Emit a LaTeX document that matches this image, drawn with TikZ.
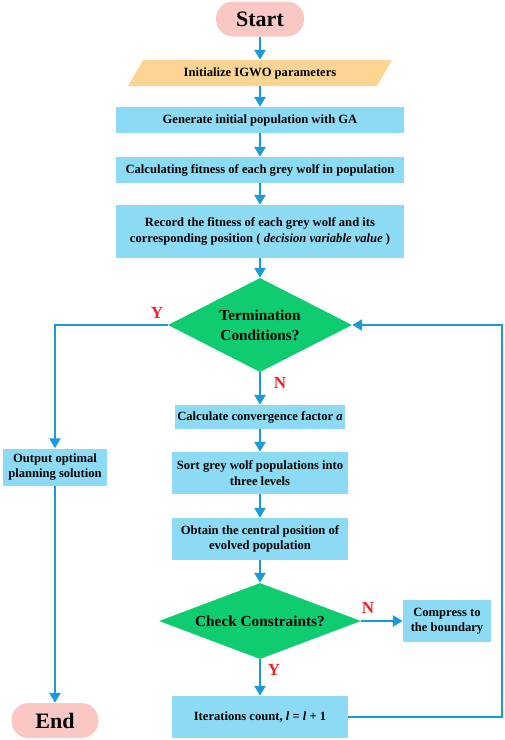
\documentclass[tikz,border=0pt]{standalone}
\usepackage{fontspec}
\setmainfont{Liberation Serif}
\usetikzlibrary{shapes.geometric,arrows.meta}
\definecolor{boxblue}{HTML}{8DDAF4}
\definecolor{arrblue}{HTML}{1B9ADB}
\definecolor{dgreen}{HTML}{10CC70}
\definecolor{pinkc}{HTML}{F9C8C4}
\definecolor{orangec}{HTML}{FCD594}
\definecolor{redc}{HTML}{E8262A}
\tikzset{
  pbox/.style={rectangle, fill=boxblue, inner sep=0pt, align=center,
    font=\bfseries\fontsize{12.6}{15.5}\selectfont},
  pill/.style={rectangle, rounded corners=17pt, fill=pinkc, inner sep=0pt,
    font=\bfseries\fontsize{22}{26}\selectfont},
  dec/.style={diamond, fill=dgreen, inner sep=0pt, align=center,
    font=\bfseries\fontsize{15.3}{20}\selectfont},
  conn/.style={draw=arrblue, line width=2.8pt, -{Triangle[width=11pt,length=10pt]}},
  lbl/.style={text=redc, font=\bfseries\fontsize{17}{19}\selectfont},
}
\begin{document}
\begin{tikzpicture}[x=1pt,y=-1pt]
\useasboundingbox (0,0) rectangle (505,740);
% nodes
\node[pill, minimum width=88pt, minimum height=35pt] (start) at (260,19) {Start};
\fill[orangec] (128,86) -- (143,60) -- (392,60) -- (377,86) -- cycle;
\node[rectangle, inner sep=0pt, minimum width=240pt, minimum height=26pt,
  font=\bfseries\fontsize{12.6}{15.5}\selectfont] (init) at (260,73) {Initialize IGWO parameters};
\node[pbox, minimum width=288pt, minimum height=26pt] (gen) at (260,120) {Generate initial population with GA};
\node[pbox, minimum width=288pt, minimum height=26pt] (calc) at (260,170) {Calculating fitness of each grey wolf in population};
\node[pbox, minimum width=288pt, minimum height=53pt] (rec) at (260,231.5) {Record the fitness of each grey wolf and its\\corresponding position ( \textit{decision variable value} )};
\node[dec, aspect=1.96, minimum width=184pt, minimum height=94pt] (term) at (260,325) {Termination\\Conditions?};
\node[pbox, minimum width=170pt, minimum height=24pt] (cvg) at (260,417) {Calculate convergence factor \textit{a}};
\node[pbox, minimum width=176pt, minimum height=42pt] (sort) at (260,473) {Sort grey wolf populations into\\three levels};
\node[pbox, minimum width=176pt, minimum height=42pt] (obt) at (260,539) {Obtain the central position of\\evolved population};
\node[dec, aspect=2.66, minimum width=202pt, minimum height=76pt] (check) at (260,621) {Check Constraints?};
\node[pbox, minimum width=88pt, minimum height=42pt] (comp) at (447,621) {Compress to\\the boundary};
\node[pbox, minimum width=176pt, minimum height=42pt] (iter) at (260,717) {Iterations count, \textit{l} = \textit{l} + 1};
\node[pbox, minimum width=104pt, minimum height=37pt] (out) at (55,467) {Output optimal\\planning solution};
\node[pill, minimum width=87pt, minimum height=35pt] (endn) at (55,720.5) {End};
\coordinate (rc) at (502,717);
% connectors
\draw[conn] (start) -- (init);
\draw[conn] (init) -- (gen);
\draw[conn] (gen) -- (calc);
\draw[conn] (calc) -- (rec);
\draw[conn] (rec) -- (term);
\draw[conn] (term) -- (cvg);
\draw[conn] (cvg) -- (sort);
\draw[conn] (sort) -- (obt);
\draw[conn] (obt) -- (check);
\draw[conn] (check) -- (iter);
\draw[conn] (check.east) -- (comp.west);
\draw[conn] (term.west) -| (out.north);
\draw[conn] (out) -- (endn);
\draw[conn] (iter.east) -- (rc) |- (term.east);
% labels
\node[lbl] (ly1) at (157,313) {Y};
\node[lbl] (ln1) at (280,383) {N};
\node[lbl] (ln2) at (368,608) {N};
\node[lbl] (ly2) at (274,670) {Y};
\end{tikzpicture}
\end{document}
